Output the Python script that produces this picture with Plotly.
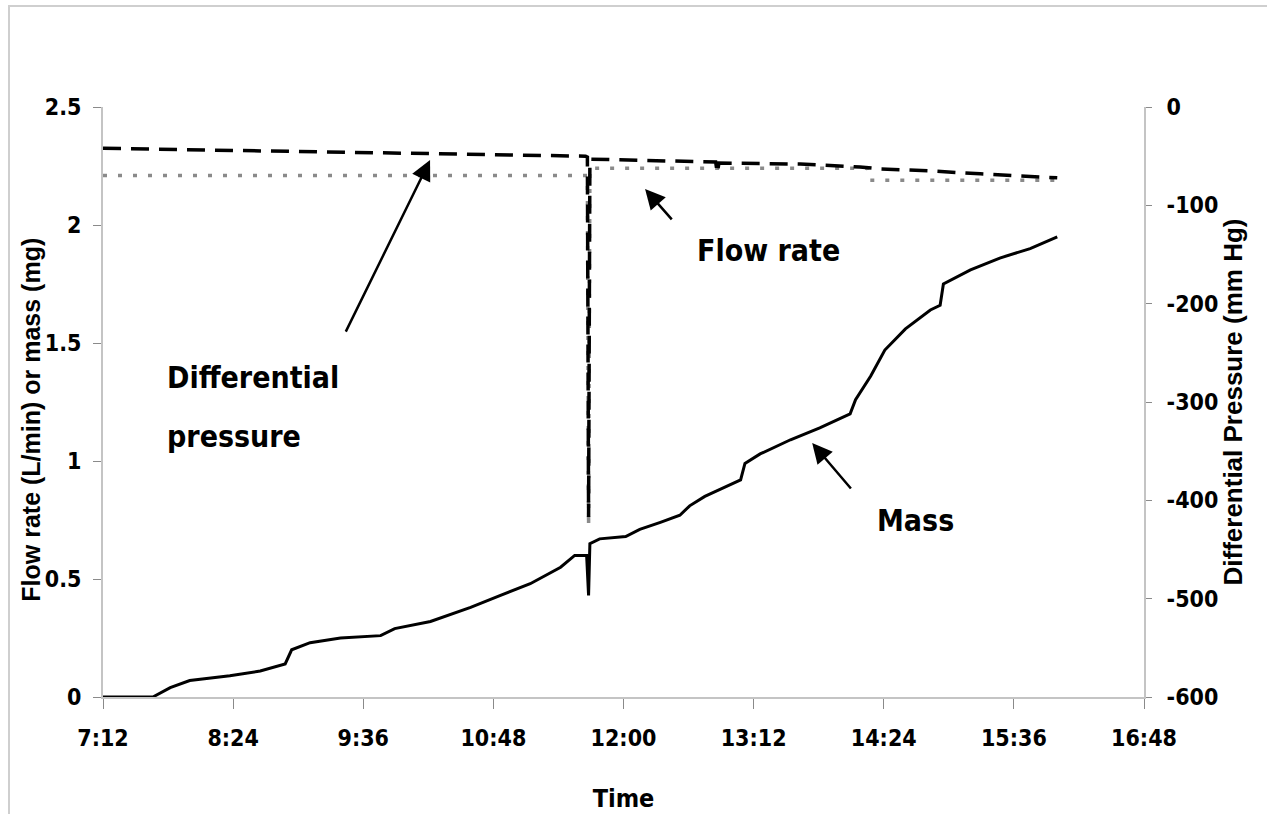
import plotly.graph_objects as go

# ---- data ----
# time in decimal hours of the day
mass_time = [7.20, 7.66, 7.82, 8.00, 8.37, 8.65, 8.88, 8.94, 9.11, 9.39,
             9.76, 9.89, 10.22, 10.59, 10.86, 11.14, 11.42, 11.55, 11.66, 11.678,
             11.69, 11.78, 12.02, 12.15, 12.34, 12.52, 12.61, 12.75, 12.89, 13.08,
             13.12, 13.26, 13.54, 13.81, 14.09, 14.14, 14.28, 14.41, 14.60, 14.83,
             14.92, 14.95, 15.20, 15.47, 15.75, 16.00]
mass_mg = [0, 0, 0.04, 0.07, 0.09, 0.11, 0.14, 0.20, 0.23, 0.25,
           0.26, 0.29, 0.32, 0.38, 0.43, 0.48, 0.55, 0.60, 0.60, 0.43,
           0.65, 0.67, 0.68, 0.71, 0.74, 0.77, 0.81, 0.85, 0.88, 0.92,
           0.99, 1.03, 1.09, 1.14, 1.20, 1.26, 1.36, 1.47, 1.56, 1.64,
           1.66, 1.75, 1.81, 1.86, 1.90, 1.95]

press_time = [7.20, 9.02, 10.12, 11.65, 11.667, 11.678, 11.69, 12.71, 12.85,
              12.865, 12.88, 13.63, 14.18, 14.37, 14.83, 15.29, 16.00]
press_mmHg = [-42, -45, -47, -50, -51, -417, -53, -55, -56,
              -67, -57, -58, -61, -63, -65, -68, -72]

flow_time = [7.20, 11.667, 11.678, 11.69, 14.25, 14.27, 16.00]
flow_lpm = [2.21, 2.21, 0.72, 2.24, 2.24, 2.19, 2.19]

x_tickvals = [7.2, 8.4, 9.6, 10.8, 12.0, 13.2, 14.4, 15.6, 16.8]
x_ticktext = ["7:12", "8:24", "9:36", "10:48", "12:00", "13:12", "14:24", "15:36", "16:48"]
y_tickvals = [0, 0.5, 1, 1.5, 2, 2.5]
y_ticktext = ["0", "0.5", "1", "1.5", "2", "2.5"]
y2_tickvals = [0, -100, -200, -300, -400, -500, -600]
y2_ticktext = ["0", "-100", "-200", "-300", "-400", "-500", "-600"]

NARROW = "DejaVu Sans Condensed"
WIDE = "Liberation Sans, Arial, sans-serif"

fig = go.Figure()
fig.add_trace(go.Scatter(x=mass_time, y=mass_mg, mode="lines", name="Mass",
                         line=dict(color="black", width=3)))
fig.add_trace(go.Scatter(x=flow_time, y=flow_lpm, mode="lines", name="Flow rate",
                         line=dict(color="#8a8a8a", width=3.5, dash="4px,11px")))
fig.add_trace(go.Scatter(x=press_time, y=press_mmHg, mode="lines", yaxis="y2",
                         name="Differential pressure",
                         line=dict(color="black", width=3.5, dash="18px,10px")))

tickfont = dict(family=NARROW, size=23, weight="bold", color="black")
axis_common = dict(showgrid=False, zeroline=False, showline=True, linecolor="#c4c4c4",
                   linewidth=2, ticks="outside", tickcolor="#8a8a8a", tickwidth=1,
                   tickfont=tickfont, automargin=False)

fig.update_layout(
    width=1267, height=814,
    margin=dict(l=103, r=123, t=107, b=117),
    paper_bgcolor="white", plot_bgcolor="white",
    showlegend=False,
    xaxis=dict(range=[7.2, 16.8], tickvals=x_tickvals, ticktext=x_ticktext,
               ticklen=10, ticklabelstandoff=9,
               title=dict(text="Time", font=dict(family=NARROW, size=25, weight="bold", color="black"),
                          standoff=40),
               **axis_common),
    yaxis=dict(range=[0, 2.5], tickvals=y_tickvals, ticktext=y_ticktext, ticklen=8,
               ticklabelstandoff=7, **axis_common),
    yaxis2=dict(range=[-600, 0], tickvals=y2_tickvals, ticktext=y2_ticktext,
                overlaying="y", side="right", ticklen=6, ticklabelstandoff=10,
                title=dict(text="Differential Pressure (mm Hg)",
                           font=dict(family=WIDE, size=26, weight="bold", color="black"),
                           standoff=6),
                **axis_common),
)

# left axis title (placed like the original, slightly below centre)
fig.add_annotation(xref="paper", yref="paper", x=-0.0692, y=0.47, xanchor="center", yanchor="middle",
                   text="Flow rate (L/min) or mass (mg)", textangle=-90, showarrow=False,
                   font=dict(family=WIDE, size=25, weight="bold", color="black"))

# outer light border of the chart area
fig.add_shape(type="rect", xref="paper", yref="paper",
              x0=-0.0903, y0=-0.22, x1=1.14, y1=1.171,
              line=dict(color="#cfcfcf", width=2), fillcolor="rgba(0,0,0,0)", layer="below")

ann_font = dict(family=NARROW, size=30, weight="bold", color="black")
# text labels
fig.add_annotation(xref="paper", yref="paper", x=0.0596, y=0.5407, xanchor="left", yanchor="middle",
                   text="Differential", showarrow=False, font=ann_font)
fig.add_annotation(xref="paper", yref="paper", x=0.0596, y=0.4407, xanchor="left", yanchor="middle",
                   text="pressure", showarrow=False, font=ann_font)
fig.add_annotation(xref="paper", yref="paper", x=0.5687, y=0.7576, xanchor="left", yanchor="middle",
                   text="Flow rate", showarrow=False, font=ann_font)
fig.add_annotation(xref="paper", yref="paper", x=0.7416, y=0.300, xanchor="left", yanchor="middle",
                   text="Mass", showarrow=False, font=ann_font)

# arrows
arrow = dict(text="", showarrow=True, arrowhead=2, arrowsize=1.6, arrowwidth=2.5, arrowcolor="black")
fig.add_annotation(x=10.216, y=2.275, xref="x", yref="y", ax=-85, ay=173, **arrow)
fig.add_annotation(x=12.199, y=2.153, xref="x", yref="y", ax=28, ay=32, **arrow)
fig.add_annotation(x=13.74, y=1.076, xref="x", yref="y", ax=40, ay=47, **arrow)

fig.write_html("out.html", config={"displayModeBar": False},
               post_script="document.body.style.margin='0';")
